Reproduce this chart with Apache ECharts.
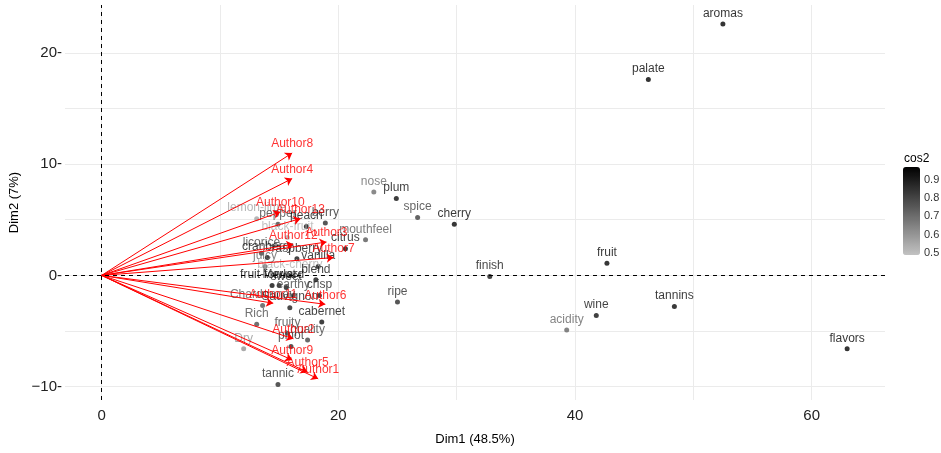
<!DOCTYPE html>
<html>
<head>
<meta charset="utf-8">
<script src="https://cdn.jsdelivr.net/npm/echarts@6/dist/echarts.min.js"></script>
<style>
html, body { margin: 0; padding: 0; background: #fff; }
#chart { width: 941px; height: 453px; }
</style>
</head>
<body>
<div id="chart"></div>
<script>
// row points (words)
var rowNames = ['aromas', 'palate', 'fruit', 'tannins', 'wine', 'acidity', 'flavors',
	'nose', 'plum', 'spice', 'cherry', 'finish', 'ripe', 'mouthfeel', 'citrus',
	'lemon-lime', 'pepper', 'peach', 'berry', 'black-fruit', 'licorice', 'cranberry',
	'raspberry', 'vanilla', 'juicy', 'black-cherry', 'blend', 'fruit-forward', 'Merlot',
	'sweet', 'earthy', 'crisp', 'Chardonnay', 'Sauvignon', 'cabernet', 'Rich', 'fruity',
	'quality', 'pinot', 'Dry', 'tannic'];
var rowX = [52.5, 46.2, 42.7, 48.4, 41.8, 39.3, 63.0,
	23.0, 24.9, 26.7, 29.8, 32.8, 25.0, 22.3, 20.6,
	13.1, 14.9, 17.3, 18.9, 15.7, 13.5, 14.0,
	16.5, 18.3, 13.8, 15.9, 18.1, 14.4, 15.0,
	15.6, 16.2, 18.4, 13.6, 15.9, 18.6, 13.1, 15.7,
	17.4, 16.0, 12.0, 14.9];
var rowY = [22.6, 17.6, 1.1, -2.8, -3.6, -4.9, -6.6,
	7.5, 6.9, 5.2, 4.6, -0.1, -2.4, 3.2, 2.4,
	5.1, 4.6, 4.4, 4.7, 3.4, 2.0, 1.6,
	1.5, 0.8, 0.8, 0.0, -0.4, -0.9, -0.9,
	-1.1, -1.8, -1.8, -2.7, -2.9, -4.2, -4.4, -5.2,
	-5.8, -6.4, -6.6, -9.8];
var rowCos2 = [0.97, 0.97, 0.96, 0.95, 0.93, 0.72, 0.97,
	0.7, 0.94, 0.82, 0.96, 0.92, 0.86, 0.75, 0.94,
	0.56, 0.8, 0.94, 0.86, 0.53, 0.8, 0.93,
	0.92, 0.92, 0.72, 0.53, 0.92, 0.94, 0.9,
	0.92, 0.8, 0.9, 0.76, 0.9, 0.93, 0.78, 0.8,
	0.8, 0.86, 0.6, 0.86];

// column arrows (authors)
var authorNames = ['Author8', 'Author4', 'Author10', 'Author13', 'Author12', 'Author3', 'Author7',
	'Author6', 'Author11', 'Author2', 'Author9', 'Author5', 'Author1'];
var authorX = [16.1, 16.1, 15.1, 16.8, 16.2, 19.0, 19.6, 18.9, 14.5, 16.2, 16.1, 17.4, 18.3];
var authorY = [11.0, 8.7, 5.7, 5.1, 2.8, 3.0, 1.6, -2.6, -2.5, -5.7, -7.6, -8.7, -9.3];

// colour bar
var cos2Ticks = [0.5, 0.6, 0.7, 0.8, 0.9];
var cos2Min = 0.487;
var cos2Max = 0.973;
var cos2Colors = ['#c2c2c2', '#000000'];

var fontName = 'Liberation Sans';

// same linear rgb mix the visualMap uses, for the labels
var greyFor = function(c) {
	var t = (c - cos2Min) / (cos2Max - cos2Min);
	t = Math.max(0, Math.min(1, t));
	var v = Math.round(0xc2 * (1 - t));
	return 'rgb(' + v + ',' + v + ',' + v + ')';
};

var rowData = [];
for (var i = 0; i < rowNames.length; i++) {
	rowData.push({
		name: rowNames[i],
		value: [rowX[i], rowY[i], rowCos2[i]],
		label: { color: greyFor(rowCos2[i]) }
	});
}

var arrowData = [];
var authorData = [];
for (var j = 0; j < authorNames.length; j++) {
	arrowData.push({ coords: [[0, 0], [authorX[j], authorY[j]]] });
	authorData.push({ name: authorNames[j], value: [authorX[j], authorY[j]] });
}

// legend text
var barTop = 167, barHeight = 88;
var legendText = [{
	type: 'text', left: 904, top: 153,
	style: { text: 'cos2', font: '12px ' + fontName, fill: '#000' }
}];
cos2Ticks.forEach(function(v) {
	var y = barTop + (cos2Max - v) / (cos2Max - cos2Min) * barHeight;
	legendText.push({
		type: 'text', x: 924, y: y,
		style: { text: v.toFixed(1), font: '11px ' + fontName, fill: '#333', verticalAlign: 'middle' }
	});
});

// no grid line on the panel edges
var gridColor = '#ebebeb';
var edgeless = function(n) {
	var c = [];
	for (var k = 0; k < n; k++) c.push(k === 0 || k === n - 1 ? 'rgba(0,0,0,0)' : gridColor);
	return c;
};

var option = {
	backgroundColor: '#fff',
	animation: false,
	textStyle: { fontFamily: fontName },
	grid: { left: 65, right: 56, top: 5, bottom: 53, outerBoundsMode: 'none', containLabel: false },
	xAxis: {
		type: 'value',
		min: -3.1,
		max: 66.2,
		splitNumber: 7,
		name: 'Dim1 (48.5%)',
		nameLocation: 'middle',
		nameGap: 33,
		nameTextStyle: { fontSize: 13, color: '#000', fontFamily: fontName },
		axisLine: { show: false },
		axisTick: { show: false },
		axisLabel: {
			fontSize: 15, color: '#222', margin: 8, fontFamily: fontName,
			formatter: function(v) { return (Math.abs(v % 20) < 1e-6) ? String(v) : ''; }
		},
		splitLine: { show: true, lineStyle: { color: edgeless(9), width: 1 } }
	},
	yAxis: {
		type: 'value',
		min: -11.2,
		max: 24.3,
		splitNumber: 7,
		name: 'Dim2 (7%)',
		nameLocation: 'middle',
		nameGap: 44,
		nameTextStyle: { fontSize: 13, color: '#000', fontFamily: fontName },
		axisLine: { show: false },
		axisTick: { show: false },
		axisLabel: {
			fontSize: 15, color: '#222', margin: 3, fontFamily: fontName,
			formatter: function(v) {
				if (Math.abs(v % 10) > 1e-6) return '';
				return v < 0 ? '\u2212' + Math.abs(v) + '-' : v + '-';
			}
		},
		splitLine: { show: true, lineStyle: { color: edgeless(9), width: 1 } }
	},
	visualMap: {
		type: 'continuous',
		seriesIndex: 0,
		dimension: 2,
		min: cos2Min,
		max: cos2Max,
		left: 903,
		top: barTop,
		padding: 0,
		itemWidth: 17,
		itemHeight: barHeight,
		text: null,
		showLabel: false,
		calculable: false,
		realtime: false,
		inRange: { color: cos2Colors }
	},
	graphic: legendText,
	series: [
		{
			type: 'scatter',
			data: rowData,
			symbolSize: 5,
			z: 3,
			label: {
				show: true,
				position: 'top',
				distance: 2,
				fontSize: 12,
				fontFamily: fontName,
				formatter: '{b}'
			},
			markLine: {
				silent: true,
				symbol: 'none',
				label: { show: false },
				lineStyle: { color: '#000', type: [4, 4], width: 1 },
				data: [{ xAxis: 0 }, { yAxis: 0 }]
			}
		},
		{
			type: 'lines',
			coordinateSystem: 'cartesian2d',
			data: arrowData,
			symbol: ['none', 'arrow'],
			symbolSize: [0, 7],
			z: 4,
			lineStyle: { color: '#ff0000', width: 1, opacity: 1 },
			silent: true
		},
		{
			type: 'scatter',
			data: authorData,
			symbolSize: 0,
			z: 5,
			label: {
				show: true,
				position: 'top',
				distance: 3,
				fontSize: 12,
				color: '#ff0000',
				fontFamily: fontName,
				formatter: '{b}'
			}
		}
	]
};

var myChart = echarts.init(document.getElementById('chart'));
myChart.setOption(option);
</script>
</body>
</html>
